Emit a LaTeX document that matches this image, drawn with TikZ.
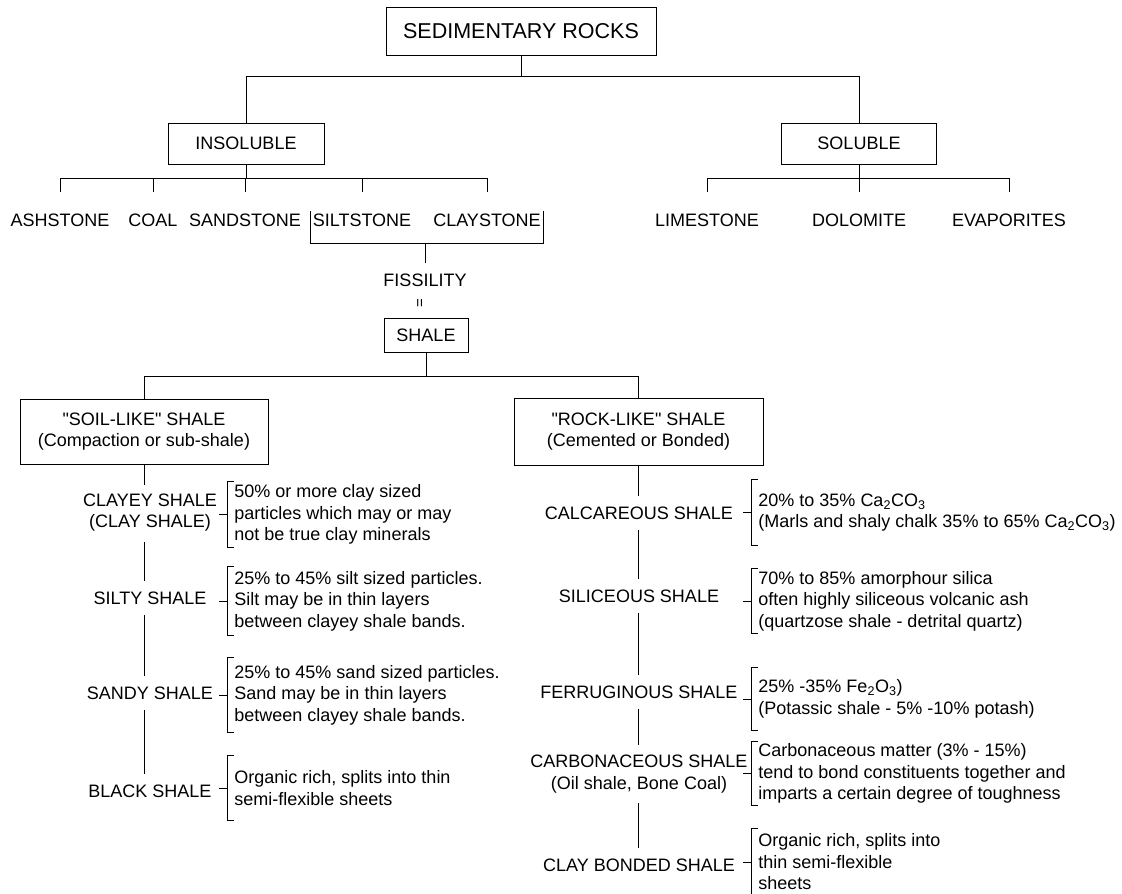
\documentclass[tikz,border=0pt]{standalone}
\usepackage{fontspec}
\setmainfont{Liberation Sans}
\begin{document}
\begin{tikzpicture}[x=1pt, y=-1pt, line width=0.9pt,
  every node/.style={font=\fontsize{18}{21.5}\selectfont, inner sep=2pt},
  box/.style={rectangle, draw=black, text centered, align=center},
  item/.style={align=center},
  note/.style={anchor=west, align=left, inner xsep=7pt, minimum height=66pt},
  stem/.style={shorten <=8pt, shorten >=8pt}]

\useasboundingbox (0,0) rectangle (1122,894);

% Nodes
\node (rocks) [box, minimum width=270pt, minimum height=48pt, font=\fontsize{21.5}{24}\selectfont] at (521,31) {SEDIMENTARY ROCKS};
\node (insol) [box, minimum width=156pt, minimum height=41pt] at (246,143.5) {INSOLUBLE};
\node (sol) [box, minimum width=155pt, minimum height=41pt] at (859,143.5) {SOLUBLE};

\node (ash) [item] at (60,220) {ASHSTONE};
\node (coal) [item] at (153,220) {COAL};
\node (sand) [item] at (245,220) {SANDSTONE};
\node (silt) [item] at (362,220) {SILTSTONE};
\node (clay) [item] at (487,220) {CLAYSTONE};
\node (lime) [item] at (707,220) {LIMESTONE};
\node (dolo) [item] at (859,220) {DOLOMITE};
\node (evap) [item] at (1009,220) {EVAPORITES};

\node (fiss) [item] at (425,280) {FISSILITY};
\node (eq) [rotate=90, font=\fontsize{15}{15}\selectfont] at (421,303) {=};
\node (shale) [box, minimum width=84pt, minimum height=34pt] at (426,335) {SHALE};

\node (soil) [box, minimum width=248pt, minimum height=65pt] at (144,431.5) {\textquotedbl SOIL-LIKE\textquotedbl\ SHALE\\(Compaction or sub-shale)};
\node (rock) [box, minimum width=249pt, minimum height=67pt] at (638.5,431.5) {\textquotedbl ROCK-LIKE\textquotedbl\ SHALE\\(Cemented or Bonded)};

% Soil-like column
\node (clayey) [item] at (150,512.5) {CLAYEY SHALE\\(CLAY SHALE)};
\node (silty) [item] at (150,598) {SILTY SHALE};
\node (sandy) [item] at (150,693) {SANDY SHALE};
\node (black) [item] at (150,791) {BLACK SHALE};

\node (dclayey) [note, minimum height=65pt] at (227,514.5) {50\% or more clay sized\\particles which may or may\\not be true clay minerals};
\node (dsilty) [note, minimum height=68pt] at (227,601) {25\% to 45\% silt sized particles.\\Silt may be in thin layers\\between clayey shale bands.};
\node (dsandy) [note, minimum height=74pt] at (227,695) {25\% to 45\% sand sized particles.\\Sand may be in thin layers\\between clayey shale bands.};
\node (dblack) [note, minimum height=64pt] at (227,788) {Organic rich, splits into thin\\semi-flexible sheets};

% Rock-like column
\node (calc) [item] at (639,513) {CALCAREOUS SHALE};
\node (silic) [item] at (639,596) {SILICEOUS SHALE};
\node (ferr) [item] at (639,692) {FERRUGINOUS SHALE};
\node (carb) [item] at (639,774) {CARBONACEOUS SHALE\\(Oil shale, Bone Coal)};
\node (cbond) [item] at (639,865) {CLAY BONDED SHALE};

\node (dcalc) [note, minimum height=65pt] at (751,512.5) {20\% to 35\% Ca\textsubscript{2}CO\textsubscript{3}\\(Marls and shaly chalk 35\% to 65\% Ca\textsubscript{2}CO\textsubscript{3})};
\node (dsilic) [note, minimum height=62pt] at (751,601) {70\% to 85\% amorphour silica\\often highly siliceous volcanic ash\\(quartzose shale - detrital quartz)};
\node (dferr) [note, minimum height=62pt] at (751,699) {25\% -35\% Fe\textsubscript{2}O\textsubscript{3})\\(Potassic shale - 5\% -10\% potash)};
\node (dcarb) [note, minimum height=63pt] at (751,773.5) {Carbonaceous matter (3\% - 15\%)\\tend to bond constituents together and\\imparts a certain degree of toughness};
\node (dcbond) [note, minimum height=66pt] at (751,862) {Organic rich, splits into\\thin semi-flexible\\sheets};

% Bus levels
\coordinate (tbus) at (0,76);
\coordinate (ibus) at (0,178);
\coordinate (fbar) at (0,243);
\coordinate (sbus) at (0,376);

% Lines
\draw (rocks.south) -- (rocks.south |- tbus);
\draw (insol.north) -- (insol.north |- tbus) -- (sol.north |- tbus) -- (sol.north);

\draw (insol.south) -- (insol.south |- ibus);
\draw (ash.north |- ibus) -- (clay.north |- ibus);
\draw (sol.south) -- (sol.south |- ibus);
\draw (lime.north |- ibus) -- (evap.north |- ibus);
\foreach \n in {ash,coal,sand,silt,clay,lime,dolo,evap}
  \draw (\n.north |- ibus) -- ++(0,14);

\draw (silt.north west) -- (silt.north west |- fbar) -- (clay.north east |- fbar) -- (clay.north east);
\draw (fiss.north |- fbar) -- ([yshift=8pt]fiss.north);

\draw (shale.south) -- (shale.south |- sbus);
\draw (soil.north) -- (soil.north |- sbus) -- (rock.north |- sbus) -- (rock.north);

\draw [shorten >=6pt] (soil.south) -- (soil.south |- clayey.north);
\draw [stem] (soil.south |- clayey.south) -- (soil.south |- silty.north);
\draw [stem] (soil.south |- silty.south) -- (soil.south |- sandy.north);
\draw [stem] (soil.south |- sandy.south) -- (soil.south |- black.north);

\draw [shorten >=8pt] (rock.south) -- (rock.south |- calc.north);
\draw [stem] (rock.south |- calc.south) -- (rock.south |- silic.north);
\draw [stem] (rock.south |- silic.south) -- (rock.south |- ferr.north);
\draw [stem] (rock.south |- ferr.south) -- (rock.south |- carb.north);
\draw [stem] (rock.south |- carb.south) -- (rock.south |- cbond.north);

% Brackets
\foreach \n in {dclayey,dsilty,dsandy,dblack,dcalc,dsilic,dferr,dcarb,dcbond}
  \draw ([xshift=7pt]\n.north west) -- (\n.north west) -- (\n.south west) -- ([xshift=7pt]\n.south west);
\foreach \b in {dclayey,dsilty,dsandy,dblack,dcalc,dsilic,dferr,dcarb,dcbond}
  \draw (\b.west) -- ++(-8,0);

\end{tikzpicture}
\end{document}
